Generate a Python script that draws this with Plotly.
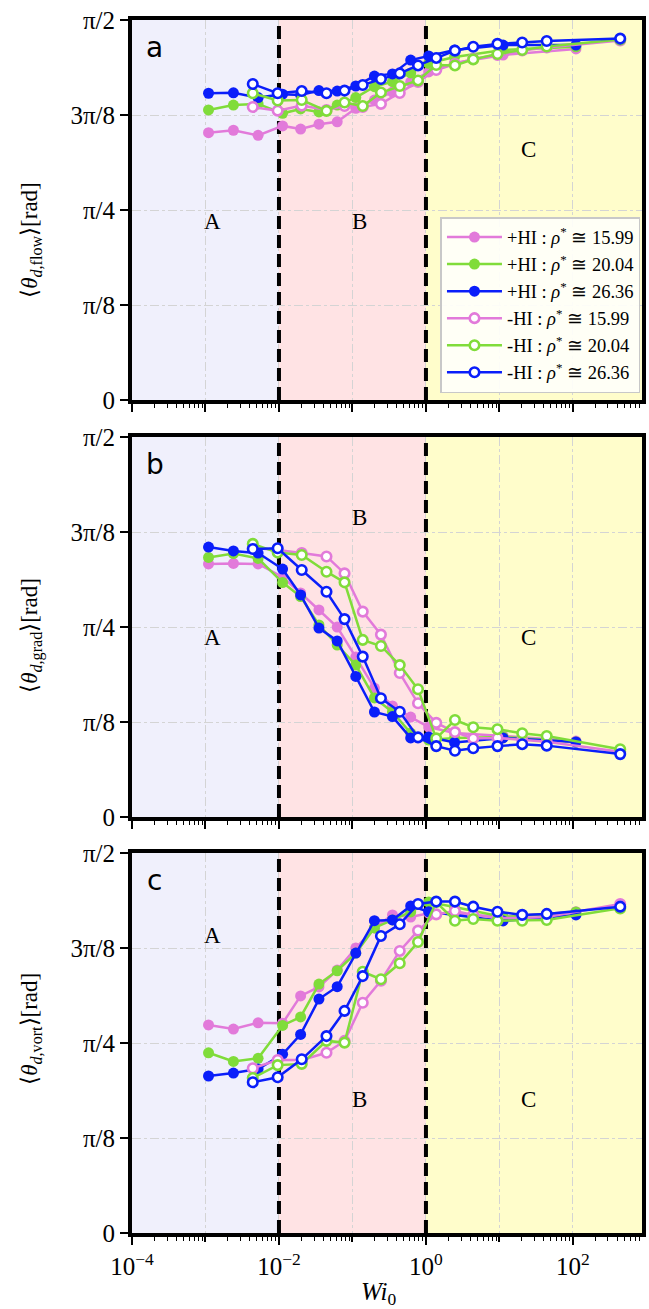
import math
import plotly.graph_objects as go

# ---------------- data ----------------
x_plus = [1.1e-3, 2.4e-3, 5.2e-3, 1.12e-2, 1.97e-2, 3.5e-2, 6.2e-2, 0.111, 0.199,
          0.35, 0.62, 1.09, 2.45, 11.2, 110]
x_minus = [4.4e-3, 9.6e-3, 2.04e-2, 4.43e-2, 7.8e-2, 0.138, 0.244, 0.44, 0.78,
           1.38, 2.48, 4.4, 9.4, 20.4, 44, 440]

# panel a : theta_d,flow
flow_plus_1599 = [1.105, 1.115, 1.094, 1.133, 1.120, 1.140, 1.150, 1.206, 1.240, 1.273, 1.315, 1.356, 1.393, 1.426, 1.451]
flow_plus_2004 = [1.199, 1.219, 1.224, 1.185, 1.203, 1.191, 1.219, 1.250, 1.295, 1.316, 1.352, 1.392, 1.418, 1.447, 1.460]
flow_plus_2636 = [1.268, 1.270, 1.250, 1.264, 1.261, 1.279, 1.277, 1.298, 1.339, 1.348, 1.405, 1.422, 1.447, 1.467, 1.467]
flow_minus_1599 = [1.211, 1.196, 1.217, 1.199, 1.215, 1.211, 1.224, 1.269, 1.315, 1.364, 1.389, 1.410, 1.426, 1.445, 1.457, 1.486]
flow_minus_2004 = [1.268, 1.238, 1.240, 1.195, 1.230, 1.215, 1.271, 1.298, 1.321, 1.385, 1.383, 1.408, 1.430, 1.447, 1.461, 1.490]
flow_minus_2636 = [1.306, 1.268, 1.277, 1.268, 1.279, 1.302, 1.327, 1.350, 1.383, 1.414, 1.444, 1.460, 1.472, 1.478, 1.484, 1.494]

# panel b : theta_d,grad
grad_plus_1599 = [1.046, 1.048, 1.046, 0.992, 0.926, 0.856, 0.785, 0.661, 0.533, 0.459, 0.413, 0.372, 0.347, 0.335, 0.314]
grad_plus_2004 = [1.073, 1.089, 1.069, 0.969, 0.911, 0.794, 0.711, 0.628, 0.492, 0.434, 0.347, 0.318, 0.327, 0.331, 0.310]
grad_plus_2636 = [1.116, 1.100, 1.091, 1.025, 0.918, 0.781, 0.728, 0.581, 0.434, 0.415, 0.327, 0.331, 0.308, 0.327, 0.310]
grad_minus_1599 = [1.112, 1.104, 1.091, 1.077, 1.007, 0.849, 0.754, 0.595, 0.470, 0.389, 0.351, 0.325, 0.327, 0.318, 0.311, 0.270]
grad_minus_2004 = [1.129, 1.093, 1.083, 1.014, 0.970, 0.732, 0.707, 0.628, 0.528, 0.325, 0.401, 0.371, 0.363, 0.346, 0.335, 0.280]
grad_minus_2636 = [1.108, 1.111, 1.021, 0.931, 0.818, 0.663, 0.491, 0.435, 0.329, 0.293, 0.274, 0.284, 0.293, 0.301, 0.295, 0.260]

# panel c : theta_d,vort
vort_plus_1599 = [0.860, 0.843, 0.869, 0.867, 0.980, 1.017, 1.087, 1.178, 1.261, 1.315, 1.306, 1.322, 1.319, 1.307, 1.328]
vort_plus_2004 = [0.745, 0.709, 0.722, 0.858, 0.893, 1.029, 1.084, 1.157, 1.261, 1.294, 1.327, 1.368, 1.348, 1.306, 1.327]
vort_plus_2636 = [0.649, 0.661, 0.678, 0.739, 0.821, 0.967, 1.018, 1.157, 1.291, 1.294, 1.352, 1.328, 1.315, 1.290, 1.315]
vort_minus_1599 = [0.681, 0.715, 0.715, 0.745, 0.794, 0.952, 1.043, 1.166, 1.250, 1.317, 1.331, 1.315, 1.302, 1.302, 1.306, 1.360]
vort_minus_2004 = [0.641, 0.694, 0.699, 0.794, 0.787, 1.080, 1.049, 1.115, 1.203, 1.368, 1.291, 1.298, 1.291, 1.291, 1.294, 1.342]
vort_minus_2636 = [0.623, 0.644, 0.718, 0.814, 0.918, 1.062, 1.228, 1.276, 1.360, 1.370, 1.370, 1.349, 1.328, 1.315, 1.319, 1.349]

rho_labels = ["15.99", "20.04", "26.36"]
series_colors = ["#E27ADA", "#80DC3A", "#0A1EFA"]
y_tick_vals = [0, math.pi / 8, math.pi / 4, 3 * math.pi / 8, math.pi / 2]
y_tick_text = ["0", "π/8", "π/4", "3π/8", "π/2"]
x_label_exps = [-4, -2, 0, 2]
x_odd_exps = [-3, -1, 1]
panel_letters = ["a", "b", "c"]
y_titles = ["flow", "grad", "vort"]
region_edges = [1e-4, 1e-2, 1.0, 1e3]
region_colors = ["#F0F0FC", "#FFE3E4", "#FFFDCB"]
boundaries = [1e-2, 1.0]

panels = [
    ([flow_plus_1599, flow_plus_2004, flow_plus_2636], [flow_minus_1599, flow_minus_2004, flow_minus_2636]),
    ([grad_plus_1599, grad_plus_2004, grad_plus_2636], [grad_minus_1599, grad_minus_2004, grad_minus_2636]),
    ([vort_plus_1599, vort_plus_2004, vort_plus_2636], [vort_minus_1599, vort_minus_2004, vort_minus_2636]),
]

# ---------------- layout geometry ----------------
W, H = 649, 1309
ML, MR, MT, MB = 132, 3, 20, 76
ph = H - MT - MB
panel_px = [(20, 400), (437, 817), (853, 1233)]   # (top, bottom) in pixels


def py(p):
    return (H - MB - p) / ph


domains = [[py(b), py(t)] for (t, b) in panel_px]

SERIF = "Liberation Serif"
fig = go.Figure()

for i, (plus, minus) in enumerate(panels):
    xa = "x" if i == 0 else f"x{i+1}"
    ya = "y" if i == 0 else f"y{i+1}"
    for xv in boundaries:
        fig.add_trace(go.Scatter(
            x=[xv, xv], y=[0, math.pi / 2], mode="lines", xaxis=xa, yaxis=ya,
            line=dict(color="black", width=4, dash="13px,6px"),
            showlegend=False, hoverinfo="skip"))
    for k in range(3):
        fig.add_trace(go.Scatter(
            x=x_plus, y=plus[k], mode="lines+markers", xaxis=xa, yaxis=ya,
            line=dict(color=series_colors[k], width=2.5),
            marker=dict(color=series_colors[k], size=11, symbol="circle"),
            name=f"+HI : <i>ρ</i><sup>*</sup> ≅ {rho_labels[k]}",
            legendgroup=f"p{k}", showlegend=(i == 0)))
    for k in range(3):
        fig.add_trace(go.Scatter(
            x=x_minus, y=minus[k], mode="lines+markers", xaxis=xa, yaxis=ya,
            line=dict(color=series_colors[k], width=2.5),
            marker=dict(color="white", size=9.5, symbol="circle",
                        line=dict(color=series_colors[k], width=2.6)),
            name=f"-HI : <i>ρ</i><sup>*</sup> ≅ {rho_labels[k]}",
            legendgroup=f"m{k}", showlegend=(i == 0)))

minor_vals = [m * 10 ** e for e in range(-4, 3) for m in range(2, 10)]

layout = dict(
    width=W, height=H,
    margin=dict(l=ML, r=MR, t=MT, b=MB),
    paper_bgcolor="white", plot_bgcolor="white",
    showlegend=True,
    legend=dict(x=0.997, y=py(393), xanchor="right", yanchor="bottom",
                bgcolor="rgba(255,255,250,0.92)", bordercolor="#c8c8c8", borderwidth=1.5,
                font=dict(family=SERIF, size=18.5, color="black"),
                tracegroupgap=0, itemwidth=55),
)

axis_common = dict(
    ticks="outside", ticklen=8, tickwidth=2, tickcolor="black",
    showgrid=True, gridcolor="#d4d4d4", gridwidth=1, griddash="dashdot",
    zeroline=False,
)

shapes = []
annotations = []
for i in range(3):
    sfx = "" if i == 0 else str(i + 1)
    xdict = dict(
        type="log", range=[-4, 2.94], domain=[0, 1], anchor=f"y{sfx}",
        showline=True, linewidth=4, linecolor="black", mirror=True,
        minor=dict(tickmode="array", tickvals=minor_vals, ticks="outside", ticklen=4,
                   tickwidth=1.3, tickcolor="black", showgrid=False),
        tickfont=dict(family=SERIF, size=25, color="black"),
        **axis_common,
    )
    if i == 2:
        xdict["tickvals"] = [10 ** e for e in x_label_exps]
        xdict["ticktext"] = [f"10<sup>{'−' if e < 0 else ''}{abs(e)}</sup>" for e in x_label_exps]
    else:
        xdict["tickvals"] = [10 ** e for e in sorted(x_label_exps + x_odd_exps)]
        xdict["showticklabels"] = False
    layout[f"xaxis{sfx}"] = xdict
    layout[f"yaxis{sfx}"] = dict(
        range=[0, math.pi / 2], domain=domains[i], anchor=f"x{sfx}",
        tickvals=y_tick_vals, ticktext=y_tick_text,
        showline=True, linewidth=4, linecolor="black", mirror=True,
        tickfont=dict(family=SERIF, size=25, color="black"),
        **axis_common,
    )
    xr = "x" + sfx
    yd = ("y" + sfx) + " domain"
    for r in range(3):
        shapes.append(dict(type="rect", xref=xr, yref=yd, x0=region_edges[r], x1=region_edges[r + 1],
                           y0=0, y1=1, fillcolor=region_colors[r], line=dict(width=0), layer="below"))
    t, b = panel_px[i]
    annotations.append(dict(text=panel_letters[i], xref="paper", yref="paper",
                            x=(155 - ML) / (W - ML - MR), y=py(t + 27), showarrow=False,
                            xanchor="center", yanchor="middle",
                            font=dict(family="DejaVu Sans", size=28, color="black")))
    annotations.append(dict(
        text=f"⟨<i>θ</i><sub><i>d</i>,{y_titles[i]}</sub>⟩[rad]",
        xref="paper", yref="paper", x=(30 - ML) / (W - ML - MR), y=py((t + b) / 2 + 30 - 22 * i),
        showarrow=False, textangle=-90, xanchor="center", yanchor="middle",
        font=dict(family=SERIF, size=23, color="black")))

# extra overlay axis on the bottom panel: unlabeled odd-decade ticks + grid
layout["xaxis4"] = dict(
    type="log", range=[-4, 2.94], overlaying="x3", anchor="y3", side="bottom",
    tickvals=[10 ** e for e in x_odd_exps], showticklabels=False, showline=False,
    **axis_common,
)
fig.add_trace(go.Scatter(x=[1e-3], y=[None], xaxis="x4", yaxis="y3",
                         mode="markers", showlegend=False, hoverinfo="skip"))

region_text = [
    (0, "A", -2.91, 0.736), (0, "B", -0.90, 0.736), (0, "C", 1.40, 1.034),
    (1, "A", -2.91, 0.744), (1, "B", -0.90, 1.240), (1, "C", 1.40, 0.744),
    (2, "A", -2.91, 1.228), (2, "B", -0.90, 0.550), (2, "C", 1.40, 0.550),
]
for (pi_, txt, lx, ly) in region_text:
    sfx = "" if pi_ == 0 else str(pi_ + 1)
    annotations.append(dict(text=txt, xref="x" + sfx, yref="y" + sfx, x=lx, y=ly,
                            showarrow=False, font=dict(family=SERIF, size=23, color="black")))

annotations.append(dict(text="<i>Wi</i><sub>0</sub>", xref="paper", yref="paper",
                        x=(380 - ML) / (W - ML - MR), y=py(1293), showarrow=False,
                        xanchor="center", yanchor="middle",
                        font=dict(family=SERIF, size=25, color="black")))

layout["shapes"] = shapes
layout["annotations"] = annotations
fig.update_layout(**layout)
fig.write_html("out.html")
